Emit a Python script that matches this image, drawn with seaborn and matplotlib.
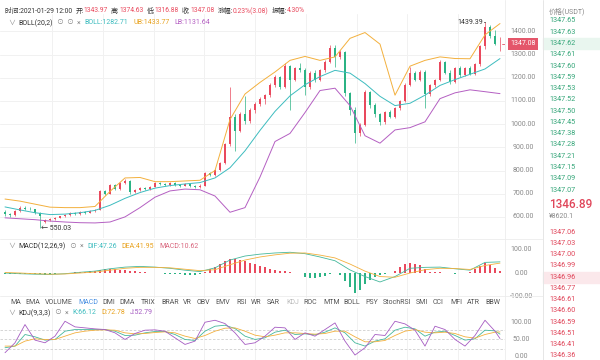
import numpy as np
import pandas as pd
import matplotlib
matplotlib.use("Agg")
import matplotlib.pyplot as plt
from matplotlib.transforms import blended_transform_factory
from matplotlib.patches import Rectangle
import seaborn as sns

#%% data

# one candle per period, 100 periods
opens = [620, 612, 608, 625, 640, 636, 632, 618, 578, 586,
         592, 597, 603, 610, 617, 612, 622, 618, 627, 630,
         712, 700, 736, 720, 748, 755, 708, 718, 726, 720,
         731, 748, 742, 737, 746, 738, 735, 743, 734, 730,
         735, 788, 781, 802, 831, 915, 1030, 972, 1045, 1012,
         1060, 1088, 1108, 1125, 1170, 1202, 1160, 1250, 1192, 1240,
         1232, 1160, 1220, 1190, 1232, 1268, 1330, 1290, 1310, 1135,
         1060, 962, 998, 1140, 1082, 1042, 1010, 1052, 1030, 1070,
         1100, 1170, 1222, 1192, 1226, 1130, 1168, 1190, 1268, 1222,
         1182, 1240, 1212, 1240, 1218, 1258, 1335, 1420, 1380, 1343.97]
highs = [628, 618, 630, 645, 646, 642, 635, 622, 590, 596,
         600, 606, 612, 620, 620, 625, 626, 630, 635, 718,
         716, 742, 740, 752, 762, 758, 722, 730, 730, 735,
         752, 752, 746, 750, 749, 744, 748, 746, 738, 740,
         792, 795, 806, 836, 920, 1160, 1045, 1052, 1120, 1068,
         1095, 1115, 1132, 1178, 1210, 1208, 1262, 1256, 1248, 1262,
         1240, 1228, 1232, 1238, 1275, 1342, 1340, 1318, 1315, 1140,
         1075, 1005, 1148, 1145, 1090, 1050, 1058, 1060, 1075, 1105,
         1178, 1245, 1230, 1232, 1235, 1175, 1195, 1275, 1272, 1232,
         1245, 1252, 1245, 1250, 1265, 1340, 1439.39, 1428, 1405, 1374.63]
lows = [605, 600, 605, 620, 630, 628, 612, 550.03, 572, 582,
        588, 594, 600, 606, 608, 610, 614, 616, 622, 628,
        695, 698, 715, 718, 740, 700, 702, 712, 715, 716,
        728, 738, 732, 734, 733, 730, 732, 730, 725, 726,
        733, 775, 778, 798, 828, 905, 885, 965, 1000, 1005,
        1050, 1078, 1085, 1118, 1160, 1150, 1155, 1060, 1185, 1225,
        1125, 1150, 1180, 1185, 1225, 1262, 1248, 1280, 1120, 1040,
        917, 950, 990, 1070, 1030, 995, 1002, 1025, 1025, 1062,
        1095, 1165, 1185, 1188, 1068, 1120, 1160, 1185, 1215, 1175,
        1178, 1205, 1208, 1210, 1212, 1250, 1325, 1370, 1340, 1316.88]
closes = [612, 608, 625, 640, 636, 632, 618, 602, 586, 592,
          597, 603, 610, 617, 612, 622, 618, 627, 630, 712,
          700, 736, 720, 748, 755, 708, 718, 726, 720, 731,
          748, 742, 737, 746, 738, 735, 743, 734, 730, 735,
          788, 781, 802, 831, 915, 1030, 972, 1045, 1012, 1060,
          1088, 1108, 1125, 1170, 1202, 1160, 1250, 1192, 1240, 1232,
          1160, 1220, 1190, 1232, 1268, 1330, 1290, 1310, 1135, 1060,
          962, 998, 1140, 1082, 1042, 1010, 1052, 1030, 1070, 1100,
          1170, 1222, 1192, 1226, 1130, 1168, 1190, 1268, 1222, 1182,
          1240, 1212, 1240, 1218, 1258, 1335, 1420, 1380, 1344, 1347.08]

# bollinger bands, sampled every 3rd period
boll_idx = [0, 3, 6, 9, 12, 15, 18, 21, 24, 27, 30, 33, 36, 39, 42, 45, 48,
            51, 54, 57, 60, 63, 66, 69, 72, 75, 78, 81, 84, 87, 90, 93, 96, 99]
boll_ub = [677, 668, 655, 642, 640, 640, 645, 710, 768, 770, 752, 752, 755, 758, 800, 1020, 1130,
           1180, 1225, 1275, 1292, 1275, 1290, 1370, 1395, 1345, 1125, 1250, 1275, 1290, 1283, 1282, 1385, 1433.77]
boll_mid = [643, 630, 618, 610, 612, 618, 628, 650, 680, 705, 724, 735, 742, 748, 768, 812, 885,
            973, 1055, 1122, 1170, 1205, 1232, 1220, 1175, 1120, 1080, 1090, 1125, 1167, 1192, 1215, 1238, 1282.71]
boll_lb = [596, 592, 588, 582, 578, 575, 574, 578, 600, 640, 685, 712, 720, 717, 690, 620, 640,
           772, 925, 960, 1050, 1145, 1155, 1080, 950, 918, 975, 985, 1010, 1110, 1135, 1148, 1140, 1131.64]

# MACD(12,26,9): lines on the same samples as BOLL, histogram per period
dif = [0, -3, -5, -6, -3, 3, 8, 18, 25, 28, 25, 20, 12, 6, 22, 55, 72,
       80, 85, 88, 82, 68, 52, 13, -15, -38, -15, 20, 24, 25, 18, 12, 45, 47.26]
dea = [2, 0, -3, -5, -4, 0, 4, 12, 20, 24, 24, 22, 16, 10, 14, 35, 55,
       68, 77, 84, 85, 76, 64, 38, 8, -15, -18, 0, 14, 20, 19, 15, 32, 41.95]
macd_hist = [-4, -5, -6, -5, -6, -4, -5, -6, -7, -5, -3,
             -1, 1, 2, 3, 4, 6, 7, 9,
             13, 15, 16, 15, 14, 12, 10,
             8, 6, 4, 2, 0, -2, -3, -4, -5,
             -6, -7, -8, -7, -6,
             6, 15, 26, 38, 50, 58, 60, 56,
             50, 44, 38, 30, 24, 18, 14, 10,
             7, 5, 2, -2,
             -18, -20, -21, -18, -12, -4, -2,
             -8, -35, -60, -85, -70, -45, -30, -18, -8, -3, 2, 10,
             25, 38, 43, 40, 32, 15, 6,
             4, 3, 2, -2, -3, -2, -1,
             3, 15, 30, 43, 35, 22, 10.62]

# KDJ(9,3,3), sampled every 2nd period
kdj_idx = [0, 2, 4, 6, 8, 10, 12, 14, 16, 18, 20, 22, 24, 26, 28, 30, 32, 34, 36, 38,
           40, 42, 44, 46, 48, 50, 52, 54, 56, 58, 60, 62, 64, 66, 68, 70, 72, 74, 76, 78,
           80, 82, 84, 86, 88, 90, 92, 94, 96, 98, 99]
kdj_k = [25, 30, 65, 58, 48, 50, 75, 80, 80, 80, 80, 75, 62, 63, 70, 74, 74, 65, 50, 47,
         75, 90, 93, 83, 60, 50, 55, 72, 78, 65, 67, 64, 72, 85, 70, 40, 30, 45, 52, 78,
         87, 82, 60, 72, 75, 62, 48, 52, 78, 76, 66.12]
kdj_d = [30, 30, 45, 52, 50, 50, 60, 70, 75, 78, 79, 78, 70, 67, 68, 71, 73, 70, 60, 53,
         62, 75, 84, 85, 75, 63, 58, 63, 70, 70, 68, 66, 68, 75, 75, 58, 43, 43, 47, 62,
         75, 80, 72, 70, 72, 68, 58, 54, 65, 72, 72.78]
kdj_j = [10, 40, 95, 48, 40, 60, 105, 88, 85, 82, 80, 70, 50, 68, 78, 79, 75, 55, 35, 45,
         102, 108, 98, 70, 35, 40, 60, 87, 85, 50, 70, 60, 80, 100, 45, 3, 25, 65, 62, 105,
         97, 78, 30, 90, 80, 50, 30, 62, 108, 75, 52.79]

# axis labels
price_ticks = [600, 700, 800, 900, 1000, 1100, 1200, 1300, 1400]
macd_ticks = [-100, 0, 100]
kdj_ticks = [0, 50, 100]
last_price = 1347.08

# header texts
header_time = '时间:2021-01-29 12:00'
header_labels = ['开', '高', '低', '收', '涨幅', '振幅']
header_values = ['1343.97', '1374.63', '1316.88', '1347.08', '0.23%(3.08)', '4.30%']
tabs = ['MA', 'EMA', 'VOLUME', 'MACD', 'DMI', 'DMA', 'TRIX', 'BRAR', 'VR', 'OBV', 'EMV', 'RSI', 'WR',
        'SAR', 'KDJ', 'ROC', 'MTM', 'BOLL', 'PSY', 'StochRSI', 'SMI', 'CCI', 'MFI', 'ATR', 'BBW']

# order book column on the right
ask_prices = ['1347.65', '1347.63', '1347.62', '1347.61', '1347.60', '1347.59', '1347.53', '1347.52',
              '1347.50', '1347.45', '1347.38', '1347.28', '1347.21', '1347.15', '1347.09', '1347.07']
bid_prices = ['1347.06', '1347.03', '1347.00', '1346.99', '1346.96', '1346.77', '1346.61', '1346.60',
              '1346.59', '1346.51', '1346.41', '1346.36']
mid_price = '1346.89'
mid_cny = '¥8620.1'

#%% style

sns.set_style("white")
plt.rcParams['font.family'] = ['Roboto', 'Noto Sans CJK SC', 'DejaVu Sans']

UP = '#e9495d'
DOWN = '#2bb384'
UB_C = '#f3b03d'
MID_C = '#3dbcbf'
LB_C = '#b45fc2'
DARK = '#333333'
GREY = '#8a8a8a'
GRID = '#f1f1f1'
W, H = 600, 360
TAB_X = [10, 25, 45, 78, 102, 119, 141, 161, 183, 197, 215, 236, 251,
         267, 286, 303, 323, 343, 365, 383, 416, 433, 450, 467, 485]  # px, left edges

fig = plt.figure(figsize=(6, 3.6), dpi=100)
renderer = fig.canvas.get_renderer()


def px_axes(x0, y0, x1, y1):
    ax = fig.add_axes([x0 / W, 1 - y1 / H, (x1 - x0) / W, (y1 - y0) / H])
    ax.set_axis_off()
    ax.set_xlim(-1, 100)
    return ax


def flow(x, y, parts, size):
    # parts: (text, colour, gap after)
    for s, col, gap in parts:
        t = fig.text(x / W, 1 - y / H, s, color=col, fontsize=size, va='center', ha='left', zorder=5)
        x = t.get_window_extent(renderer).x1 + gap
    return x


ax_main = px_axes(0, 14, 505, 238)
ax_macd = px_axes(0, 240, 505, 298)
ax_kdj = px_axes(0, 308, 505, 360)
ax_main.set_ylim(509, 1475)
ax_macd.set_ylim(-106, 140)
ax_kdj.set_ylim(-12, 145)

grid_x = np.arange(9.4, 99, 10.15)
for ax in (ax_main, ax_macd, ax_kdj):
    for gx in grid_x:
        ax.axvline(gx, color=GRID, lw=0.7, zorder=0)
for p in price_ticks:
    ax_main.axhline(p, color=GRID, lw=0.7, zorder=0)

#%% candles + BOLL

o = np.array(opens)
c = np.array(closes)
idx = np.arange(len(c))
cols = [UP if cc >= oo else DOWN for oo, cc in zip(o, c)]
ax_main.vlines(idx, lows, highs, colors=cols, lw=0.5, zorder=2)
ax_main.bar(idx, np.maximum(np.abs(c - o), 2), bottom=np.minimum(o, c), width=0.5,
            color=cols, linewidth=0, zorder=3)

boll = pd.DataFrame({'i': boll_idx, 'UB': boll_ub, 'BOLL': boll_mid, 'LB': boll_lb})
boll = boll.melt(id_vars='i', var_name='line', value_name='value')
sns.lineplot(data=boll, x='i', y='value', hue='line', palette={'UB': UB_C, 'BOLL': MID_C, 'LB': LB_C},
             ax=ax_main, legend=False, linewidth=0.7, sort=False, zorder=4)
ax_main.set_axis_off()

ax_main.text(95.6, 1439.39, '1439.39', fontsize=5, color=DARK, ha='right', va='center')
ax_main.plot([95.7, 96], [1439.39, 1439.39], color=DARK, lw=0.6)
ax_main.text(7.2, 550.03, '← 550.03', fontsize=5, color=DARK, ha='left', va='center')

# right price axis
tr = blended_transform_factory(fig.transFigure, ax_main.transData)
for p in price_ticks:
    ax_main.text(523 / W, p, f'{p:.2f}', transform=tr, fontsize=5, color=GREY, ha='center', va='center')
ax_main.text(523 / W, last_price, f'{last_price:.2f}', transform=tr, fontsize=5, color='white',
             ha='center', va='center', zorder=6,
             bbox=dict(boxstyle='square,pad=0.35', fc='#e4566a', ec='none'))
ax_main.plot([99.4, 100.2], [last_price, last_price], color='#e4566a', lw=0.6)

#%% MACD

hist_cols = [UP if v >= 0 else DOWN for v in macd_hist]
ax_macd.bar(idx, macd_hist, width=0.45, color=hist_cols, linewidth=0, zorder=2)
macd = pd.DataFrame({'i': boll_idx, 'DIF': dif, 'DEA': dea}).melt(id_vars='i', var_name='line')
sns.lineplot(data=macd, x='i', y='value', hue='line', palette={'DIF': '#45b89c', 'DEA': UB_C},
             ax=ax_macd, legend=False, linewidth=0.6, sort=False, zorder=3)
ax_macd.set_axis_off()
tr = blended_transform_factory(fig.transFigure, ax_macd.transData)
for v in macd_ticks:
    ax_macd.text(521 / W, v, f'{v:.2f}', transform=tr, fontsize=5, color=GREY, ha='center', va='center')

#%% KDJ

for lvl in (20, 50, 80):
    ax_kdj.axhline(lvl, color='#cfcfcf', lw=0.6, dashes=(3, 2), zorder=1)
kdj = pd.DataFrame({'i': kdj_idx, 'K': kdj_k, 'D': kdj_d, 'J': kdj_j}).melt(id_vars='i', var_name='line')
sns.lineplot(data=kdj, x='i', y='value', hue='line', palette={'K': '#45b89c', 'D': UB_C, 'J': '#a55bc2'},
             ax=ax_kdj, legend=False, linewidth=0.6, sort=False, zorder=3)
ax_kdj.set_axis_off()
tr = blended_transform_factory(fig.transFigure, ax_kdj.transData)
for v in kdj_ticks:
    ax_kdj.text(521 / W, v, f'{v:.2f}', transform=tr, fontsize=5, color=GREY, ha='center', va='center')

#%% separators and headers

for y in (239, 296):
    fig.add_artist(plt.Line2D([0, 543 / W], [1 - y / H] * 2, color='#ececec', lw=0.6))
fig.add_artist(plt.Line2D([505 / W] * 2, [0, 1], color='#ececec', lw=0.6))
fig.add_artist(plt.Line2D([543 / W] * 2, [0, 1], color='#e6e6e6', lw=0.7))

parts = [(header_time, DARK, 3)]
for lab, val in zip(header_labels, header_values):
    parts += [(lab + ':', DARK, 0), (val, UP, 3)]
flow(5, 11, parts, 4.9)

flow(8, 23, [('∨', GREY, 3), ('BOLL(20,2)', DARK, 4), ('⊙', GREY, 3), ('⊙', GREY, 3), ('×', GREY, 4),
             ('BOLL:1282.71', MID_C, 5), ('UB:1433.77', '#e8a21e', 5), ('LB:1131.64', LB_C, 0)], 5.0)
flow(8, 246, [('∨', GREY, 3), ('MACD(12,26,9)', DARK, 4), ('⊙', GREY, 3), ('×', GREY, 4),
              ('DIF:47.26', MID_C, 5), ('DEA:41.95', '#e8a21e', 5), ('MACD:10.62', '#d9677e', 0)], 5.0)
flow(8, 313, [('∨', GREY, 3), ('KDJ(9,3,3)', DARK, 4), ('⊙', GREY, 3), ('×', GREY, 4),
              ('K:66.12', MID_C, 5), ('D:72.78', '#e8a21e', 5), ('J:52.79', '#a55bc2', 0)], 5.0)

for t, tx in zip(tabs, TAB_X):
    col = '#4a90e2' if t == 'MACD' else ('#bbbbbb' if t == 'KDJ' else '#555555')
    fig.text(tx / W, 1 - 302 / H, t, color=col, fontsize=5.0, va='center', ha='left')

#%% order book column

fig.add_artist(Rectangle((543 / W, 1 - 48.5 / H), 57 / W, 10.5 / H, color='#e9f6ef', zorder=0))
fig.add_artist(Rectangle((543 / W, 1 - 282.5 / H), 57 / W, 10.5 / H, color='#fbe8eb', zorder=0))
fig.text(549 / W, 1 - 11 / H, '价格(USDT)', fontsize=5, color=GREY, va='center')
for k, p in enumerate(ask_prices):
    fig.text(549 / W, 1 - (21 + 11.27 * k) / H, p, fontsize=5.2, color='#35a679', va='center')
fig.text(549 / W, 1 - 205 / H, mid_price, fontsize=8.5, color='#e0465a', va='center', fontweight='medium')
fig.text(549 / W, 1 - 217 / H, mid_cny, fontsize=5, color=GREY, va='center')
for k, p in enumerate(bid_prices):
    fig.text(549 / W, 1 - (232 + 11.27 * k) / H, p, fontsize=5.2, color='#e0465a', va='center')

fig.savefig('out.png', dpi=100)
